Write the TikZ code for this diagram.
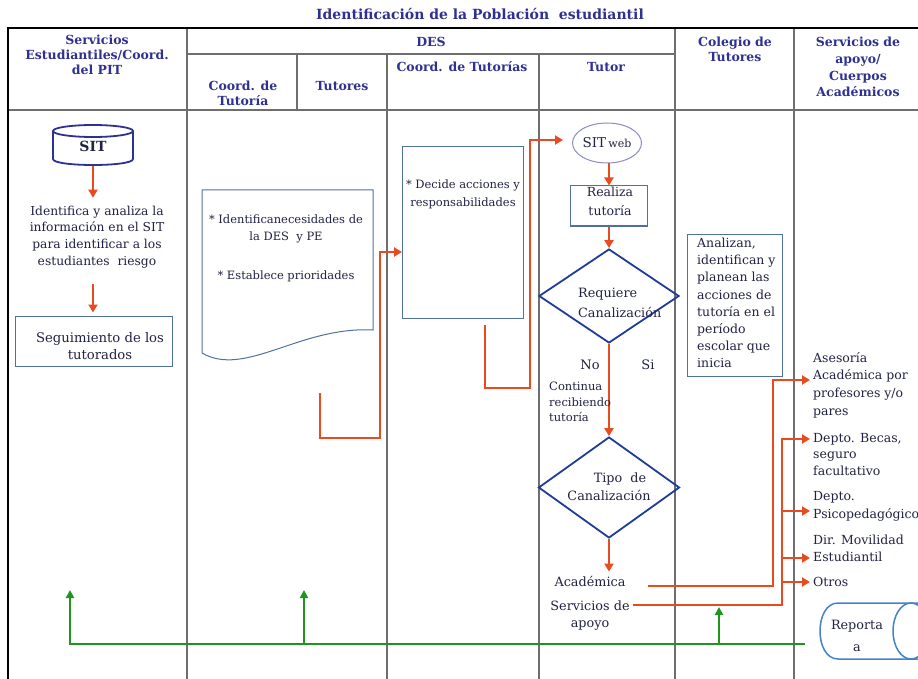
\documentclass[tikz,border=0pt]{standalone}
\usepackage{fontspec}
\setmainfont{DejaVu Serif}
\usetikzlibrary{arrows.meta,shapes.geometric,calc}
\definecolor{hdr}{RGB}{46,49,146}
\definecolor{txt}{RGB}{34,34,68}
\definecolor{ored}{RGB}{232,76,30}
\definecolor{grn}{RGB}{30,150,30}
\definecolor{boxb}{RGB}{80,112,160}
\definecolor{dia}{RGB}{31,60,154}
\definecolor{gridc}{RGB}{110,110,110}
\definecolor{repb}{RGB}{70,130,200}
\definecolor{ellc}{RGB}{140,140,192}
\begin{document}
\begin{tikzpicture}[x=1pt,y=-1pt,
  hd/.style={text=hdr,font=\fontsize{12.5}{15}\selectfont\bfseries,align=center,inner sep=0},
  bt/.style={text=txt,font=\fontsize{12.3}{16.7}\selectfont,align=center,inner sep=0},
  st/.style={text=txt,font=\fontsize{11.5}{17.5}\selectfont,align=center,inner sep=0},
  gridl/.style={draw=gridc,line width=1.2pt},
  rarr/.style={draw=ored,line width=2.8pt,-{Triangle[length=8pt,width=9pt]}},
  garr/.style={draw=grn,line width=2.5pt,-{Triangle[length=8pt,width=8pt]}},
  bbox/.style={draw=boxb,line width=1pt,inner sep=0},
  dmd/.style={diamond,draw=dia,line width=1.8pt,inner sep=0},
]
\useasboundingbox (0,0) rectangle (918,679);
\fill[white] (0,0) rectangle (918,679);

% ---------- table grid ----------
\draw[gridl] (187,28) -- (187,679);
\draw[gridl] (387,54) -- (387,679);
\draw[gridl] (539,54) -- (539,679);
\draw[gridl] (675,28) -- (675,679);
\draw[gridl] (794,28) -- (794,679);
\draw[gridl] (297,54) -- (297,110);
\draw[gridl] (187,54) -- (675,54);
\draw[gridl] (8,110) -- (918,110);
\draw[line width=2.8pt] (8,28) -- (918,28);
\draw[line width=1.6pt] (8,27) -- (8,679);

% ---------- title and headers ----------
\node[hd,font=\fontsize{14}{16}\selectfont\bfseries] (title) at (480,14) {Identificación de la Población\ \ estudiantil};
\node[hd] (h1) at (97,55) {Servicios\\Estudiantiles/Coord.\\del PIT};
\node[hd] (hdes) at (431,42) {DES};
\node[hd] (h2) at (243,93.5) {Coord. de\\Tutoría};
\node[hd] (h3) at (342,86) {Tutores};
\node[hd] (h4) at (462,67) {Coord. de Tutorías};
\node[hd] (h5) at (606,67) {Tutor};
\node[hd] (h6) at (735,49.5) {Colegio de\\Tutores};
\node[hd,font=\fontsize{12.5}{16.7}\selectfont\bfseries] (h7) at (858,67) {Servicios de\\apoyo/\\Cuerpos\\Académicos};

% ---------- column 1 ----------
\draw[draw=hdr,line width=1.8pt,fill=white] (53,131) -- (53,159) .. controls (53,167) and (133,167) .. (133,159) -- (133,131);
\draw[draw=hdr,line width=1.8pt] (93,131) ellipse [x radius=40,y radius=6];
\node[inner sep=0,minimum width=80pt,minimum height=40pt,text=txt,font=\fontsize{14}{16}\selectfont\bfseries] (sit) at (93,146) {SIT};
\node[bt] (ident) at (97,237) {Identifica y analiza la\\información en el SIT\\para identificar a los\\estudiantes\ \ riesgo};
\node[bbox,minimum width=157pt,minimum height=50pt] (seg) at (93.5,341) {};
\node[bt,font=\fontsize{13.2}{17}\selectfont] (segt) at (100,346.5) {Seguimiento de los\\tutorados};
\draw[rarr,shorten >=8pt] (sit.south) -- (sit.south |- ident.north);
\draw[rarr,shorten <=16pt,shorten >=3pt] (sit.south |- ident.south) -- (sit.south |- seg.north);

% ---------- Coord. de Tutoria / Tutores ----------
\draw[bbox,fill=white] (202,190) -- (373,190) -- (373,330) .. controls (300,326) and (245,378) .. (202,353) -- cycle;
\node[st] (doct) at (286,248.5) {* Identificanecesidades de\\la DES\ \ y PE\\[21.5pt]* Establece prioridades};

% ---------- Coord. de Tutorias ----------
\node[bbox,minimum width=121pt,minimum height=171pt] (dec) at (462.5,232.5) {};
\node[st,font=\fontsize{11.5}{18}\selectfont] (dect) at (463,194) {* Decide acciones y\\responsabilidades};
\coordinate (a0) at (320,393);
\coordinate (decin) at (402,252);
\draw[rarr] (a0) |- (380,438) |- (decin);
\coordinate (b0) at (485,325);
\coordinate (swin) at (563,140);
\draw[rarr] (b0) |- (530,388) |- (swin);

% ---------- Tutor ----------
\node[ellipse,draw=ellc,line width=1pt,minimum width=55pt,minimum height=40pt,inner sep=0,text=txt] (sw) at (607,143) {\fontsize{13.5}{15}\selectfont SIT\,\fontsize{11}{13}\selectfont web};
\node[bbox,minimum width=77pt,minimum height=40pt] (rea) at (609,206) {};
\node[bt,font=\fontsize{12.5}{19}\selectfont] (reat) at (610,201) {Realiza\\tutoría};
\draw[rarr] (rea.north |- sw.south) -- (rea.north);
\node[dmd,minimum width=140pt,minimum height=94pt] (req) at (609,296) {};
\node[bt,font=\fontsize{12.8}{20}\selectfont,align=left,anchor=west] (reqt) at (578,303) {Requiere\\Canalización};
\draw[rarr] (rea.south) -- (req.north);
\node[dmd,minimum width=141pt,minimum height=101pt] (tipo) at (609,487.5) {};
\node[bt,font=\fontsize{12.8}{18}\selectfont] (tipot) at (609,487) {\hspace*{22pt}Tipo\ \ de\\Canalización};
\draw[rarr] (req.south) -- (tipo.north);
\node[bt,font=\fontsize{13}{16}\selectfont] (no) at (590,365) {No};
\node[bt,font=\fontsize{13}{16}\selectfont] (si) at (648,365) {Si};
\node[st,font=\fontsize{11.5}{15.5}\selectfont,align=left,anchor=west] (cont) at (549,402) {Continua\\recibiendo\\tutoría};
\node[bt,font=\fontsize{12.8}{16}\selectfont] (aca) at (590,581) {Académica};
\node[bt,font=\fontsize{12.8}{16.5}\selectfont] (serv) at (590,615.5) {Servicios de\\apoyo};
\draw[rarr,shorten >=4pt] (tipo.south) -- (tipo.south |- aca.north);

% ---------- Colegio de Tutores ----------
\node[bbox,minimum width=95pt,minimum height=142pt] (col) at (734.5,305) {};
\node[bt,font=\fontsize{12.5}{17.15}\selectfont,align=left,anchor=west] (colt) at (697,303) {Analizan,\\identifican y\\planean las\\acciones de\\tutoría en el\\período\\escolar que\\inicia};

% ---------- Servicios de apoyo ----------
\begin{scope}[every node/.style={text=txt,inner sep=0,align=left,anchor=west}]
\node[font=\fontsize{12.5}{17.8}\selectfont] (r1) at (813,385) {Asesoría\\Académica por\\profesores y/o\\pares};
\node[font=\fontsize{12.5}{16.5}\selectfont] (r2) at (813,454.5) {Depto. Becas,\\seguro\\facultativo};
\node[font=\fontsize{12.5}{18}\selectfont] (r3) at (813,506) {Depto.\\Psicopedagógico};
\node[font=\fontsize{12.5}{17}\selectfont] (r4) at (813,548.5) {Dir. Movilidad\\Estudiantil};
\node[font=\fontsize{12.5}{15}\selectfont] (r5) at (813,582) {Otros};
\end{scope}
\coordinate (t1) at (810,380);
\coordinate (t2) at (810,439);
\coordinate (t3) at (810,511);
\coordinate (t4) at (810,558);
\coordinate (t5) at (810,582);
\coordinate (ccol) at (773,0);
\coordinate (dcol) at (782,0);
\coordinate (c0) at (648,586);
\coordinate (d0) at (633,605);
\draw[rarr] (c0) -| (ccol |- t1) -- (t1);
\draw[rarr] (d0) -| (dcol |- t2) -- (t2);
\draw[rarr] (dcol |- t3) -- (t3);
\draw[rarr] (dcol |- t4) -- (t4);
\draw[rarr] (dcol |- t5) -- (t5);

% ---------- Reporta a ----------
\draw[draw=repb,line width=1.5pt,fill=white] (838,603) -- (930,603) (838,659) -- (930,659)
  (838,603) .. controls (814,603) and (814,659) .. (838,659);
\draw[draw=repb,line width=1.5pt] (911,631) ellipse [x radius=18,y radius=28];
\node[bt,font=\fontsize{12.8}{22}\selectfont] (rep) at (857,636) {Reporta\\a};

% ---------- green feedback ----------
\coordinate (g0) at (805,644);
\coordinate (gl) at (70,590);
\coordinate (gm) at (304,590);
\coordinate (gr) at (719,607);
\draw[garr] (g0) -| (gl);
\draw[garr] (gm |- g0) -- (gm);
\draw[garr] (gr |- g0) -- (gr);
\end{tikzpicture}
\end{document}
